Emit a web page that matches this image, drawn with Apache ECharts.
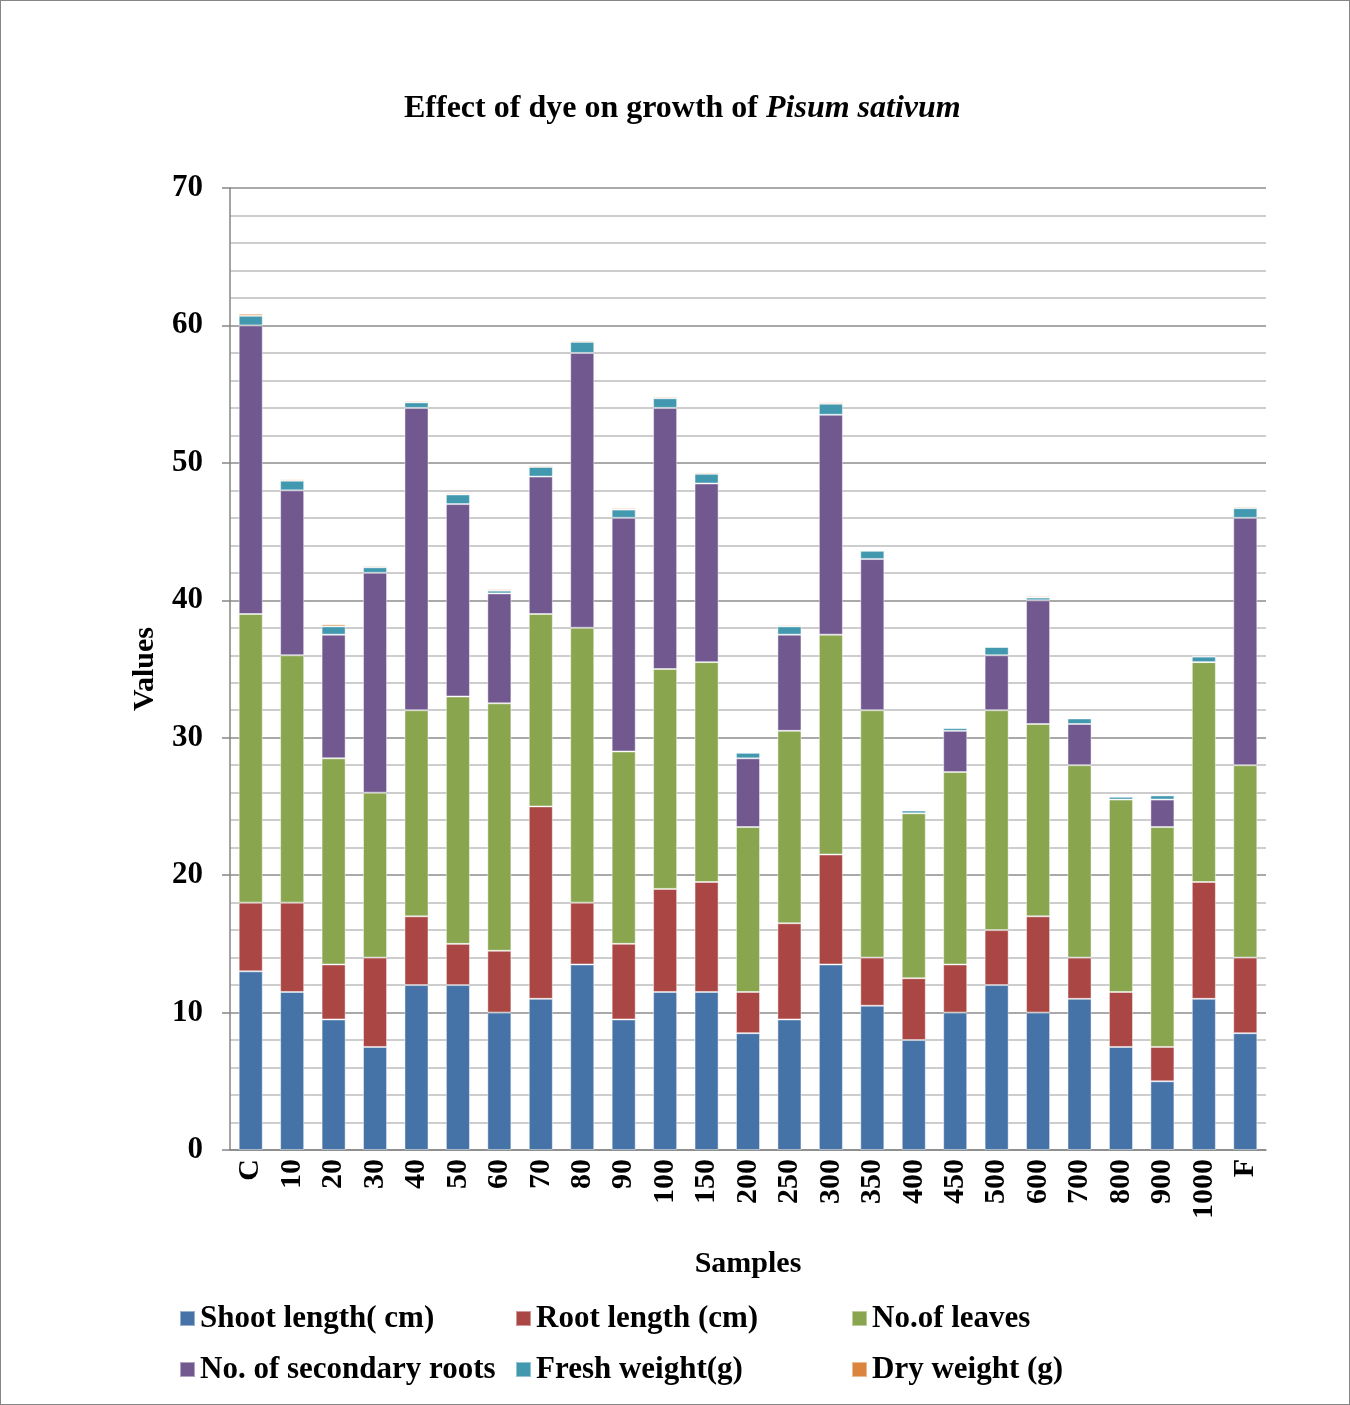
<!DOCTYPE html>
<html>
<head>
<meta charset="utf-8">
<script src="https://cdn.jsdelivr.net/npm/echarts@6/dist/echarts.min.js"></script>
<style>
  html, body { margin: 0; padding: 0; background: #fff; }
  #chart { width: 1350px; height: 1405px; box-sizing: border-box; border: 1px solid #868686; }
</style>
</head>
<body>
<div id="chart"></div>
<script>
// samples (dye concentration)
var samples = ['C', '10', '20', '30', '40', '50', '60', '70', '80', '90', '100', '150', '200',
    '250', '300', '350', '400', '450', '500', '600', '700', '800', '900', '1000', 'F'];

// stacked values
var shootLength = [13, 11.5, 9.5, 7.5, 12, 12, 10, 11, 13.5, 9.5, 11.5, 11.5, 8.5,
    9.5, 13.5, 10.5, 8, 10, 12, 10, 11, 7.5, 5, 11, 8.5];
var rootLength = [5, 6.5, 4, 6.5, 5, 3, 4.5, 14, 4.5, 5.5, 7.5, 8, 3,
    7, 8, 3.5, 4.5, 3.5, 4, 7, 3, 4, 2.5, 8.5, 5.5];
var leaves = [21, 18, 15, 12, 15, 18, 18, 14, 20, 14, 16, 16, 12,
    14, 16, 18, 12, 14, 16, 14, 14, 14, 16, 16, 14];
var secondaryRoots = [21, 12, 9, 16, 22, 14, 8, 10, 20, 17, 19, 13, 5,
    7, 16, 11, 0, 3, 4, 9, 3, 0, 2, 0, 18];
var freshWeight = [0.7, 0.7, 0.6, 0.4, 0.4, 0.7, 0.2, 0.7, 0.8, 0.6, 0.7, 0.7, 0.4,
    0.6, 0.8, 0.6, 0.2, 0.2, 0.6, 0.2, 0.4, 0.2, 0.3, 0.4, 0.7];
var dryWeight = [0.15, 0.1, 0.15, 0.1, 0.1, 0.1, 0.1, 0.1, 0.1, 0.1, 0.1, 0.1, 0.05,
    0.1, 0.1, 0.05, 0.05, 0.05, 0.05, 0.1, 0.05, 0.05, 0.05, 0.05, 0.1];

var seriesNames = ['Shoot length( cm)', 'Root length (cm)', 'No.of leaves',
    'No. of secondary roots', 'Fresh weight(g)', 'Dry weight (g)'];
var seriesData = [shootLength, rootLength, leaves, secondaryRoots, freshWeight, dryWeight];
var colors = ['#4572A7', '#AA4643', '#89A54E', '#71588F', '#4198AF', '#DB843D'];

var font = '"Liberation Serif", "Times New Roman", serif';

var myChart = echarts.init(document.getElementById('chart'));

myChart.setOption({
    animation: false,
    color: colors,
    //标题
    title: {
        text: '{b|Effect of dye on growth of }{i|Pisum sativum}',
        left: 403,
        top: 92,
        padding: 0,
        textStyle: {
            rich: {
                b: {fontFamily: font, fontSize: 32, fontWeight: 'bold', color: '#000'},
                i: {fontFamily: font, fontSize: 32, fontWeight: 'bold', fontStyle: 'italic', color: '#000'}
            }
        }
    },
    legend: {
        left: 178,
        top: 1292,
        width: 1030,
        padding: 0,
        itemGap: 0,
        itemWidth: 15,
        itemHeight: 15,
        icon: 'rect',
        data: seriesNames,
        textStyle: {
            fontFamily: font,
            fontSize: 31,
            fontWeight: 'bold',
            color: '#000',
            width: 315,
            lineHeight: 51
        }
    },
    grid: {
        left: 229,
        right: 83,
        top: 187,
        bottom: 254
    },
    xAxis: {
        type: 'category',
        data: samples,
        name: 'Samples',
        nameLocation: 'middle',
        nameGap: 99,
        nameTextStyle: {fontFamily: font, fontSize: 30, fontWeight: 'bold', color: '#000'},
        axisLine: {lineStyle: {color: '#868686', width: 1.5}},
        axisTick: {show: false},
        axisLabel: {
            rotate: 90,
            margin: 9,
            interval: 0,
            fontFamily: font,
            fontSize: 30,
            fontWeight: 'bold',
            color: '#000'
        }
    },
    yAxis: {
        type: 'value',
        min: 0,
        max: 70,
        interval: 10,
        name: 'Values',
        nameLocation: 'middle',
        nameGap: 70,
        nameTextStyle: {fontFamily: font, fontSize: 30, fontWeight: 'bold', color: '#000'},
        axisLine: {show: true, lineStyle: {color: '#868686', width: 1.5}},
        axisTick: {show: true, length: 8, lineStyle: {color: '#868686', width: 1.5}},
        minorTick: {show: false, splitNumber: 5},
        axisLabel: {
            margin: 27,
            fontFamily: font,
            fontSize: 31,
            fontWeight: 'bold',
            color: '#000'
        },
        splitLine: {lineStyle: {color: '#8c8c8c', width: 1.5}},
        minorSplitLine: {show: true, lineStyle: {color: '#bdbdbd', width: 1.5}}
    },
    series: seriesNames.map(function (name, i) {
        return {
            name: name,
            type: 'bar',
            stack: 'total',
            barWidth: '58%',
            data: seriesData[i],
            itemStyle: {
                color: colors[i],
                borderColor: 'rgba(255,255,255,0.45)',
                borderWidth: 1
            }
        };
    })
});
</script>
</body>
</html>
